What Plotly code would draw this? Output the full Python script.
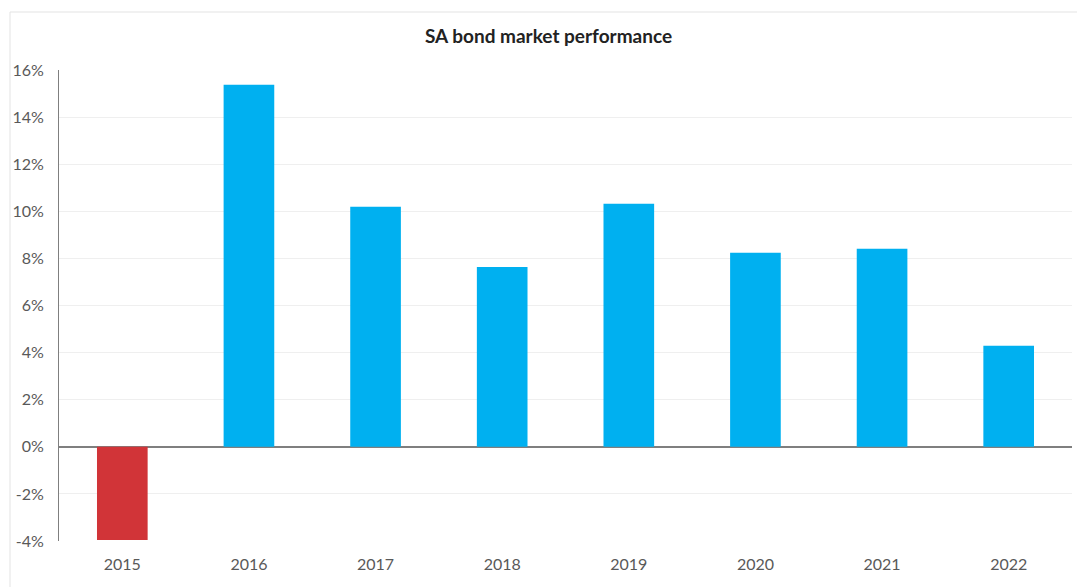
import plotly.graph_objects as go

years = ["2015", "2016", "2017", "2018", "2019", "2020", "2021", "2022"]
returns = [-3.96, 15.37, 10.19, 7.64, 10.32, 8.24, 8.41, 4.29]
tick_vals = [-4, -2, 0, 2, 4, 6, 8, 10, 12, 14, 16]
tick_text = [f"{v}%" for v in tick_vals]

colors = ["#D13438" if v < 0 else "#00B0F0" for v in returns]

fig = go.Figure(go.Bar(
    x=years, y=[v for v in returns], marker=dict(color=colors, line=dict(width=0)),
    hovertemplate="%{x}: %{y:.2f}%<extra></extra>",
))

W, H = 1077, 587
L, R, T, B = 59, 5, 70, 46
pw, ph = W - L - R, H - T - B

fig.update_layout(
    width=W, height=H,
    margin=dict(l=L, r=R, t=T, b=B),
    paper_bgcolor="white", plot_bgcolor="white",
    bargap=0.6,
    showlegend=False,
    font=dict(family="Lato, Noto Sans, sans-serif", color="#595959", size=16),
    title=dict(text="<b>SA bond market performance</b>", x=548.5 / W, xanchor="center",
               y=1 - 36 / H, yanchor="middle",
               font=dict(family="Lato, Noto Sans, sans-serif", size=19, color="#222222")),
    xaxis=dict(showgrid=False, showline=False, ticks="", ticklabelstandoff=12,
               tickfont=dict(size=16, color="#595959")),
    yaxis=dict(range=[-4, 16], tickvals=tick_vals, ticktext=tick_text,
               showgrid=True, gridcolor="#EFEFEF", gridwidth=1,
               zeroline=True, zerolinecolor="#7F7F7F", zerolinewidth=1.5,
               showline=True, linecolor="#7F7F7F", linewidth=1,
               ticks="", ticklabelstandoff=11,
               tickfont=dict(size=16, color="#595959")),
    shapes=[dict(type="rect", xref="paper", yref="paper",
                 x0=(10 - L) / pw, x1=1.2, y0=-0.5, y1=(H - B - 12) / ph,
                 line=dict(color="#E3E3E3", width=1), fillcolor="rgba(0,0,0,0)", layer="below")],
)

fig.write_html("out.html")
